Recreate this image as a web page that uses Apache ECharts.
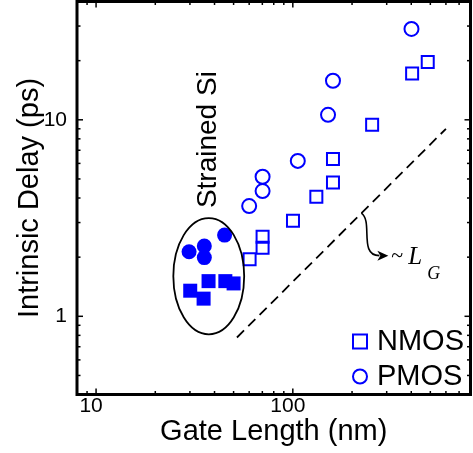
<!DOCTYPE html>
<html><head><meta charset="utf-8">
<script src="https://cdn.jsdelivr.net/npm/echarts@6/dist/echarts.min.js"></script>
<style>html,body{margin:0;padding:0;background:#fff}#c{width:473px;height:453px}</style>
</head><body><div id="c"></div>
<script>
// ---- data ----
const nmosX = [60.3, 70.2, 70.2, 100.2, 131.7, 160, 160, 253, 404, 485];
const nmosY = [1.95, 2.23, 2.54, 3.06, 4.06, 4.79, 6.32, 9.43, 17.2, 19.7];
const pmosX = [60.0, 70.2, 70.2, 106, 151, 160, 401];
const pmosY = [3.64, 4.34, 5.13, 6.18, 10.6, 15.8, 29.0];
const nmosStrainedX = [30.1, 35.2, 37.3, 45.4, 50.0];
const nmosStrainedY = [1.35, 1.23, 1.51, 1.51, 1.47];
const pmosStrainedX = [29.7, 35.5, 35.5, 45.0];
const pmosStrainedY = [2.13, 2.28, 1.99, 2.59];
const trendX = [52, 600];
const trendY = [0.78, 9.0];
const xTickLabels = [10, 100];
const yTickLabels = [1, 10];
const xMinorTicks = [9, 20, 30, 40, 50, 60, 70, 80, 90, 200, 300, 400, 500, 600, 700];
const yMinorTicks = [0.5, 0.6, 0.7, 0.8, 0.9, 2, 3, 4, 5, 6, 7, 8, 9, 20, 30];
const ellipseX = [24.7, 56.6];   // left / right extent of the "Strained Si" ellipse
const ellipseY = [0.81, 3.16];   // bottom / top extent
const arrowStart = [223, 3.35];  // point on the trend line where the arrow starts

const BLUE = '#0000ff';
const FONT = 'Liberation Sans';

function zip(xs, ys) { return xs.map((x, i) => [x, ys[i]]); }

function tickSeries(vals, axis, major) {
  return {
    type: 'custom', silent: true, z: 6, clip: false,
    data: vals.map(v => axis === 'x' ? [v, 1] : [10, v]),
    renderItem(params, api) {
      const cs = params.coordSys;
      const len = major ? 6 : 3.5;
      const p = api.coord([api.value(0), api.value(1)]);
      const st = { stroke: '#000', lineWidth: 1.5 };
      if (axis === 'x') {
        const x = p[0];
        return { type: 'group', children: [
          { type: 'line', shape: { x1: x, y1: cs.y + cs.height, x2: x, y2: cs.y + cs.height - len }, style: st },
          { type: 'line', shape: { x1: x, y1: cs.y, x2: x, y2: cs.y + len }, style: st }
        ]};
      }
      const y = p[1];
      return { type: 'group', children: [
        { type: 'line', shape: { x1: cs.x, y1: y, x2: cs.x + len, y2: y }, style: st },
        { type: 'line', shape: { x1: cs.x + cs.width, y1: y, x2: cs.x + cs.width - len, y2: y }, style: st }
      ]};
    }
  };
}

const chart = echarts.init(document.getElementById('c'), null, { renderer: 'canvas' });
chart.setOption({
  animation: false,
  textStyle: { fontFamily: FONT },
  grid: { left: 77, right: 2.5, top: 1.5, bottom: 58.5, show: true, borderColor: '#000', borderWidth: 3, containLabel: false, outerBoundsMode: 'none' },
  legend: {
    data: ['NMOS', 'PMOS'], orient: 'vertical', left: 347, top: 322,
    itemWidth: 14, itemHeight: 14, itemGap: 6,
    textStyle: { fontSize: 29, color: '#000', fontFamily: FONT, padding: [0, 0, 0, 5] },
    selectedMode: false
  },
  xAxis: {
    type: 'log', logBase: 10, min: 8, max: 800,
    axisLine: { show: false }, axisTick: { show: false }, splitLine: { show: false },
    axisLabel: { customValues: xTickLabels, fontSize: 21, color: '#000', margin: 1, fontFamily: FONT, padding: [0, 10, 0, 0] },
    name: 'Gate Length (nm)', nameLocation: 'middle', nameGap: 23, nameMoveOverlap: false,
    nameTextStyle: { fontSize: 29, color: '#000', fontFamily: FONT }
  },
  yAxis: {
    type: 'log', logBase: 10, min: 0.4, max: 40,
    axisLine: { show: false }, axisTick: { show: false }, splitLine: { show: false },
    axisLabel: { customValues: yTickLabels, fontSize: 21, color: '#000', margin: 10, fontFamily: FONT },
    name: 'Intrinsic Delay (ps)', nameLocation: 'middle', nameGap: 33, nameMoveOverlap: false,
    nameTextStyle: { fontSize: 29, color: '#000', fontFamily: FONT }
  },
  series: [
    {
      name: 'trend', type: 'line', data: zip(trendX, trendY), symbol: 'none', silent: true,
      lineStyle: { color: '#000', width: 1.8, type: [10, 6] }, z: 3
    },
    {
      name: 'NMOS', type: 'scatter', data: zip(nmosX, nmosY), symbol: 'rect', symbolSize: 12,
      itemStyle: { color: 'rgba(0,0,0,0)', borderColor: BLUE, borderWidth: 2, opacity: 1 },
      emphasis: { disabled: true }, z: 4
    },
    {
      name: 'PMOS', type: 'scatter', data: zip(pmosX, pmosY), symbol: 'circle', symbolSize: 14,
      itemStyle: { color: 'rgba(0,0,0,0)', borderColor: BLUE, borderWidth: 2, opacity: 1 },
      emphasis: { disabled: true }, z: 4
    },
    {
      name: 'NMOS strained Si', type: 'scatter', data: zip(nmosStrainedX, nmosStrainedY), symbol: 'rect', symbolSize: 14,
      itemStyle: { color: BLUE, opacity: 1 }, emphasis: { disabled: true }, z: 4
    },
    {
      name: 'PMOS strained Si', type: 'scatter', data: zip(pmosStrainedX, pmosStrainedY), symbol: 'circle', symbolSize: 15,
      itemStyle: { color: BLUE, opacity: 1 }, emphasis: { disabled: true }, z: 4
    },
    {
      name: 'ellipse', type: 'custom', silent: true, z: 5, clip: false,
      encode: { x: [0, 2], y: [1, 3] },
      data: [[ellipseX[0], ellipseY[0], ellipseX[1], ellipseY[1]]],
      renderItem(params, api) {
        const p1 = api.coord([api.value(0), api.value(1)]);
        const p2 = api.coord([api.value(2), api.value(3)]);
        const cx = (p1[0] + p2[0]) / 2, cy = (p1[1] + p2[1]) / 2;
        const rx = Math.abs(p2[0] - p1[0]) / 2, ry = Math.abs(p1[1] - p2[1]) / 2;
        const top = Math.min(p1[1], p2[1]);
        return { type: 'group', children: [
          { type: 'ellipse', shape: { cx, cy, rx, ry }, style: { fill: 'none', stroke: '#000', lineWidth: 1.8 } },
          { type: 'text', x: cx, y: top - 10, rotation: Math.PI / 2,
            style: { text: 'Strained Si', fill: '#000', font: '28px "Liberation Sans"', align: 'left', verticalAlign: 'middle' } }
        ]};
      }
    },
    {
      name: 'arrow', type: 'custom', silent: true, z: 5, clip: false,
      data: [arrowStart],
      renderItem(params, api) {
        const s = api.coord([api.value(0), api.value(1)]);
        const sx = s[0], sy = s[1];
        const tx = sx + 27, ty = sy + 42.5;
        return { type: 'group', children: [
          { type: 'bezierCurve',
            shape: { x1: sx, y1: sy, cpx1: sx + 12, cpy1: sy + 8, cpx2: sx - 3, cpy2: sy + 42.5, x2: sx + 18, y2: ty },
            style: { fill: 'none', stroke: '#000', lineWidth: 1.6 } },
          { type: 'polygon', shape: { points: [[tx, ty], [tx - 11, ty - 5], [tx - 8, ty], [tx - 11, ty + 5]] },
            style: { fill: '#000' } },
          { type: 'text', x: tx + 3, y: ty + 1,
            style: { text: '~', fill: '#000', font: '22px "Liberation Serif"', align: 'left', verticalAlign: 'middle' } },
          { type: 'text', x: tx + 20, y: ty + 1.5,
            style: { text: 'L', fill: '#000', font: 'italic 25px "Liberation Serif"', align: 'left', verticalAlign: 'middle' } },
          { type: 'text', x: tx + 39, y: ty + 19,
            style: { text: 'G', fill: '#000', font: 'italic 18px "Liberation Serif"', align: 'left', verticalAlign: 'middle' } }
        ]};
      }
    },
    tickSeries(xTickLabels, 'x', true),
    tickSeries(xMinorTicks, 'x', false),
    tickSeries(yTickLabels, 'y', true),
    tickSeries(yMinorTicks, 'y', false)
  ]
});
</script>
</body></html>
